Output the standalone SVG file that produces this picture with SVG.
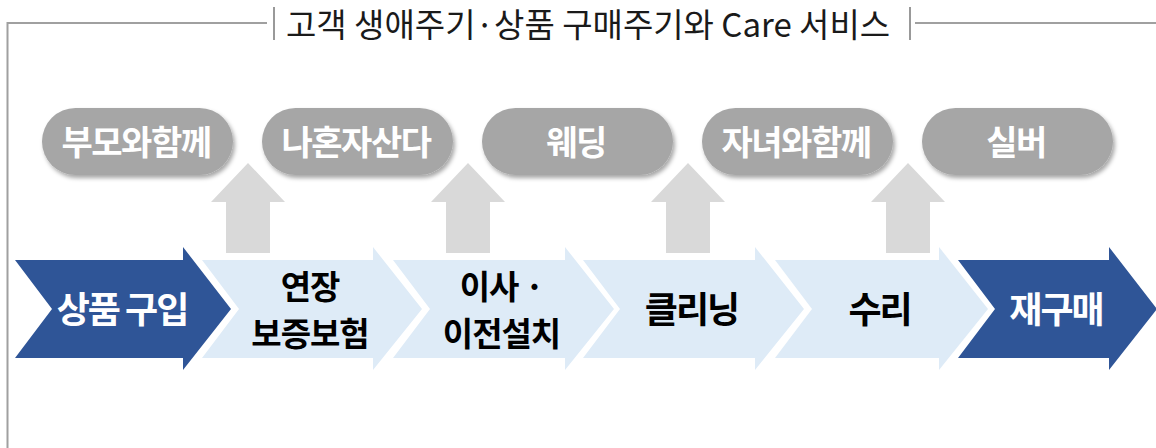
<svg xmlns="http://www.w3.org/2000/svg" width="1156" height="448" viewBox="0 0 1156 448">
  <defs>
    <filter id="shadow" x="-10%" y="-20%" width="125%" height="150%">
      <feDropShadow dx="2" dy="3" stdDeviation="2" flood-color="#000" flood-opacity="0.35"/>
    </filter>
    <style>
      .frame { stroke: #A0A0A0; stroke-width: 2; fill: none; }
      .bar { stroke: #999999; stroke-width: 2; }
      .title { font-family: "Noto Sans CJK KR", "Noto Sans", sans-serif; font-size: 33px; fill: #1a1a1a; }
      .pill { fill: #A6A6A6; filter: url(#shadow); }
      .pilltxt { font-family: "Noto Sans CJK KR", "Noto Sans", sans-serif; font-size: 34px; font-weight: bold; fill: #ffffff; text-anchor: middle; letter-spacing: -1.5px; }
      .up { fill: #D9D9D9; }
      .dark { fill: #2F5597; }
      .light { fill: #DEEBF7; }
      .lbl { font-family: "Noto Sans CJK KR", "Noto Sans", sans-serif; font-weight: bold; text-anchor: middle; }
      .lbl1 { font-size: 36px; letter-spacing: -2px; }
      .lbl2 { font-size: 33px; letter-spacing: -1px; }
      .w { fill: #ffffff; }
      .k { fill: #000000; }
    </style>
  </defs>

  <g id="frame">
    <polyline class="frame" points="7.5,448 7.5,23 267,23"/>
    <line class="frame" x1="915" y1="23" x2="1156" y2="23"/>
    <line class="bar" x1="274" y1="7" x2="274" y2="40"/>
    <line class="bar" x1="910" y1="7" x2="910" y2="40"/>
    <text class="title" x="286" y="37">고객 생애주기·상품 구매주기와 Care 서비스</text>
  </g>

  <g id="connectors">
    <polygon class="up" points="248,163 285,202 270,202 270,253 226,253 226,202 211,202"/>
    <polygon class="up" points="468,163 505,202 490,202 490,253 446,253 446,202 431,202"/>
    <polygon class="up" points="688,163 725,202 710,202 710,253 666,253 666,202 651,202"/>
    <polygon class="up" points="908,163 945,202 930,202 930,253 886,253 886,202 871,202"/>
  </g>

  <g id="pill-1">
    <rect class="pill" x="42" y="108" width="191" height="67" rx="33.5"/>
    <text class="pilltxt" x="136" y="155">부모와함께</text>
  </g>
  <g id="pill-2">
    <rect class="pill" x="262" y="108" width="191" height="67" rx="33.5"/>
    <text class="pilltxt" x="356" y="155">나혼자산다</text>
  </g>
  <g id="pill-3">
    <rect class="pill" x="482" y="108" width="191" height="67" rx="33.5"/>
    <text class="pilltxt" x="576" y="155">웨딩</text>
  </g>
  <g id="pill-4">
    <rect class="pill" x="702" y="108" width="191" height="67" rx="33.5"/>
    <text class="pilltxt" x="796" y="155">자녀와함께</text>
  </g>
  <g id="pill-5">
    <rect class="pill" x="922" y="108" width="191" height="67" rx="33.5"/>
    <text class="pilltxt" x="1016" y="155">실버</text>
  </g>

  <g id="step-1">
    <polygon class="dark" points="15,260 183,260 183,247 231,309 183,370 183,358 15,358 52,309"/>
    <text class="lbl lbl1 w" x="122" y="323">상품 구입</text>
  </g>
  <g id="step-2">
    <polygon class="light" points="202,260 373,260 373,247 422,309 373,370 373,358 202,358 239,309"/>
    <text class="lbl lbl2 k" x="310" y="299">연장</text>
    <text class="lbl lbl2 k" x="310" y="346">보증보험</text>
  </g>
  <g id="step-3">
    <polygon class="light" points="393,260 565,260 565,247 614,309 565,370 565,358 393,358 430,309"/>
    <text class="lbl lbl2 k" x="501.5" y="299">이사 ·</text>
    <text class="lbl lbl2 k" x="501.5" y="346">이전설치</text>
  </g>
  <g id="step-4">
    <polygon class="light" points="583,260 755,260 755,247 804,309 755,370 755,358 583,358 620,309"/>
    <text class="lbl lbl1 k" x="691.5" y="323">클리닝</text>
  </g>
  <g id="step-5">
    <polygon class="light" points="775,260 939,260 939,247 988,309 939,370 939,358 775,358 812,309"/>
    <text class="lbl lbl1 k" x="879.5" y="323">수리</text>
  </g>
  <g id="step-6">
    <polygon class="dark" points="958,260 1109,260 1109,247 1157,309 1109,370 1109,358 958,358 995,309"/>
    <text class="lbl lbl1 w" x="1056" y="323">재구매</text>
  </g>
</svg>
